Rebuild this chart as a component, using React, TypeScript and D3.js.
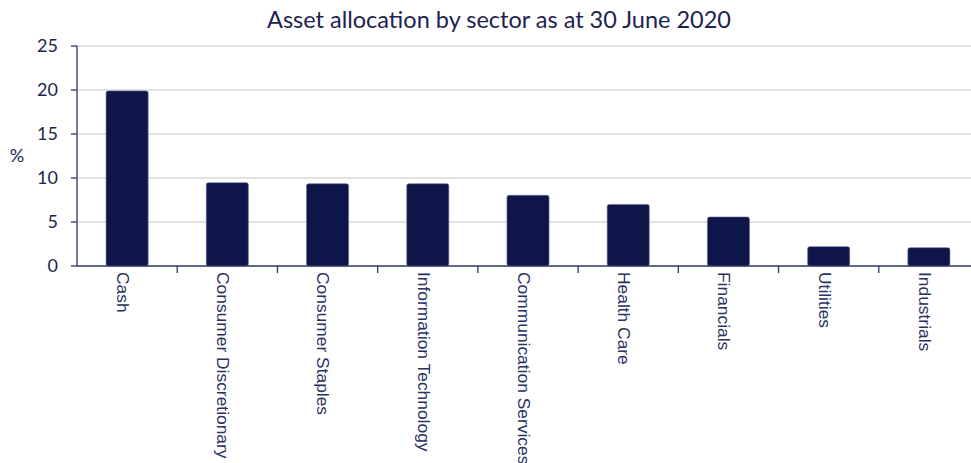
import React from 'react';
import { scaleBand, scaleLinear } from 'd3';

const sectors = [
  'Cash',
  'Consumer Discretionary',
  'Consumer Staples',
  'Information Technology',
  'Communication Services',
  'Health Care',
  'Financials',
  'Utilities',
  'Industrials',
];
const weights = [19.9, 9.47, 9.35, 9.35, 8.03, 7.0, 5.57, 2.2, 2.08];
const yTicks = [0, 5, 10, 15, 20, 25];

const width = 971;
const height = 463;
const margin = { top: 46, right: -8, bottom: 197, left: 77 };

const navy = '#0e1649';
const axisColor = '#2f3566';
const textColor = '#1d2350';

export default function App() {
  const { top, right, bottom, left } = margin;
  const innerBottom = height - bottom;

  const xScale = scaleBand<string>()
    .domain(sectors)
    .range([left, width - right])
    .paddingInner(0.58)
    .paddingOuter(0.29);

  const yScale = scaleLinear()
    .domain([0, 25])
    .range([innerBottom, top]);

  const step = xScale.step();

  return (
    <svg
      width={width}
      height={height}
      style={{ position: 'absolute', left: 0, top: 0, background: '#fff' }}
    >
      <text
        x={499}
        y={28}
        textAnchor="middle"
        fontFamily="Lato, 'Open Sans', sans-serif"
        fontSize={23.5}
        fill={textColor}
      >
        Asset allocation by sector as at 30 June 2020
      </text>

      {/* gridlines */}
      {yTicks.filter(t => t > 0).map(t => (
        <line
          key={`g${t}`}
          x1={left}
          x2={width}
          y1={yScale(t)}
          y2={yScale(t)}
          stroke="#d9d9d9"
          strokeWidth={1.5}
        />
      ))}

      {/* bars */}
      {sectors.map((s, i) => (
        <rect
          key={s}
          x={xScale(s)}
          y={yScale(weights[i])}
          width={xScale.bandwidth()}
          height={innerBottom - yScale(weights[i])}
          rx={2}
          fill={navy}
          stroke="#6a6f99"
          strokeWidth={0.6}
        />
      ))}

      {/* y axis */}
      <line x1={left} x2={left} y1={top} y2={innerBottom} stroke={axisColor} strokeWidth={1.3} />
      {yTicks.map(t => (
        <g key={`y${t}`} transform={`translate(0, ${yScale(t)})`}>
          <line x1={left - 6} x2={left} stroke={axisColor} strokeWidth={1.3} />
          <text
            x={left - 19}
            dy="0.35em"
            textAnchor="end"
            fontFamily="Lato, 'Open Sans', sans-serif"
            fontSize={18}
            fill={textColor}
          >
            {t}
          </text>
        </g>
      ))}
      <text
        x={17}
        y={yScale(12.5)}
        dy="0.35em"
        textAnchor="middle"
        fontFamily="Lato, 'Open Sans', sans-serif"
        fontSize={18}
        fill={textColor}
      >
        %
      </text>

      {/* x axis */}
      <line x1={left} x2={width} y1={innerBottom} y2={innerBottom} stroke={axisColor} strokeWidth={1.3} />
      {sectors.map((s, i) => (
        <line
          key={`t${s}`}
          x1={left + step * (i + 1)}
          x2={left + step * (i + 1)}
          y1={innerBottom}
          y2={innerBottom + 7}
          stroke={axisColor}
          strokeWidth={1.3}
        />
      ))}
      {sectors.map(s => {
        const cx = (xScale(s) as number) + xScale.bandwidth() / 2;
        return (
          <text
            key={`l${s}`}
            transform={`translate(${cx - 4}, ${innerBottom + 6}) rotate(90)`}
            dy="0.35em"
            textAnchor="start"
            fontFamily="'Liberation Sans', Arial, sans-serif"
            fontSize={17.4}
            fill="#2a3063"
          >
            {s}
          </text>
        );
      })}
    </svg>
  );
}
